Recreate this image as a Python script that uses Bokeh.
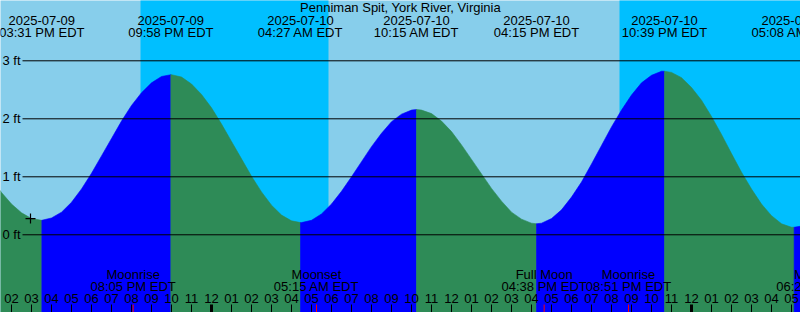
import pandas as pd
from bokeh.plotting import figure
from bokeh.models import Range1d
from bokeh.core.properties import value
from bokeh.embed import file_html
from bokeh.resources import INLINE

# ---------------- data ----------------
STATION = "Penniman Spit, York River, Virginia"
TZ = "EDT"

# tide extremes (local time, ft)
tide_times = ["2025-07-09 15:31", "2025-07-09 21:58", "2025-07-10 04:27",
              "2025-07-10 10:15", "2025-07-10 16:15", "2025-07-10 22:39",
              "2025-07-11 05:08"]
tide_levels = [0.25, 2.76, 0.21, 2.16, 0.19, 2.82, 0.13]

# tide curve read every half hour from 2025-07-09 13:00 (ft)
curve_start = "2025-07-09 13:00"
curve_levels = [
    0.97, 0.73, 0.53, 0.38, 0.28, 0.25, 0.29, 0.39, 0.56, 0.79,
    1.06, 1.36, 1.66, 1.96, 2.23, 2.45, 2.62, 2.73, 2.76, 2.72,
    2.60, 2.42, 2.19, 1.91, 1.61, 1.31, 1.01, 0.74, 0.51, 0.34,
    0.24, 0.21, 0.25, 0.36, 0.53, 0.75, 1.00, 1.26, 1.52, 1.75,
    1.95, 2.08, 2.15, 2.15, 2.09, 1.96, 1.78, 1.55, 1.30, 1.05,
    0.80, 0.58, 0.39, 0.27, 0.20, 0.20, 0.28, 0.43, 0.65, 0.91,
    1.22, 1.54, 1.86, 2.15, 2.41, 2.62, 2.75, 2.82, 2.80, 2.71,
    2.54, 2.32, 2.04, 1.73, 1.40, 1.08, 0.79, 0.53, 0.33, 0.19,
    0.13, 0.15,
]

# sun
sunset_times = ["2025-07-09 20:27", "2025-07-10 20:24"]
sunrise_times = ["2025-07-10 05:51"]

# moon events
moon_times = ["2025-07-09 20:05", "2025-07-10 05:15", "2025-07-10 16:38",
              "2025-07-10 20:51", "2025-07-11 06:22"]
moon_labels = ["Moonrise", "Moonset", "Full Moon", "Moonrise", "Moonset"]

# current-time mark
now_time = "2025-07-09 14:57"
now_level = 0.28

level_ticks = [0, 1, 2, 3]

# ---------------- layout / style ----------------
W, H = 800, 312
VIEW_START = pd.Timestamp("2025-07-09 13:27")
VIEW_END = pd.Timestamp("2025-07-11 05:27")
Y_BOTTOM, Y_TOP = -1.34, 4.04

DAY = "#87CEEB"
NIGHT = "#00BFFF"
RISING = "#0000FF"
FALLING = "#2E8B57"
FONT = value("Liberation Sans")
FS = "13px"
SHIFT = 4.5  # baseline correction (px)

EPOCH = pd.Timestamp("1970-01-01")


def ms(t):
    return (pd.Timestamp(t) - EPOCH) / pd.Timedelta(milliseconds=1)


X0, X1 = ms(VIEW_START), ms(VIEW_END)


def px_x(px):
    return X0 + (X1 - X0) * px / W


def px_y(py):
    return Y_TOP - (Y_TOP - Y_BOTTOM) * py / H


def ty(py):
    return px_y(py - SHIFT)


FT_PER_PX = (Y_TOP - Y_BOTTOM) / H

p = figure(width=W, height=H, output_backend="svg", toolbar_location=None,
           x_axis_location=None, y_axis_location=None, min_border=0,
           x_range=Range1d(X0, X1), y_range=Range1d(Y_BOTTOM, Y_TOP),
           background_fill_color=DAY, border_fill_color=DAY,
           outline_line_color=None)
p.grid.visible = False

# ---- night bands ----
rise_list = [pd.Timestamp(t) for t in sunrise_times]
for s in sunset_times:
    st = pd.Timestamp(s)
    later = [r for r in rise_list if r > st]
    en = later[0] if later else VIEW_END + pd.Timedelta(hours=1)
    p.quad(left=ms(st), right=ms(en), bottom=Y_BOTTOM - 1, top=Y_TOP + 1,
           fill_color=NIGHT, line_color=None)

# ---- water ----
curve_t = pd.date_range(curve_start, periods=len(curve_levels), freq="30min")
df = pd.concat([
    pd.DataFrame({"t": curve_t, "h": curve_levels}),
    pd.DataFrame({"t": pd.to_datetime(tide_times), "h": tide_levels}),
]).drop_duplicates("t").sort_values("t").reset_index(drop=True)
df["x"] = [ms(t) for t in df["t"]]

bounds = [df["t"].iloc[0]] + list(pd.to_datetime(tide_times)) + [df["t"].iloc[-1]]
pxs, pys, pcols = [], [], []
for a, b in zip(bounds[:-1], bounds[1:]):
    seg = df[(df["t"] >= a) & (df["t"] <= b)]
    rising = seg["h"].iloc[-1] > seg["h"].iloc[0]
    xs = list(seg["x"]) + [seg["x"].iloc[-1], seg["x"].iloc[0]]
    ys = list(seg["h"]) + [Y_BOTTOM - 1, Y_BOTTOM - 1]
    pxs.append(xs)
    pys.append(ys)
    pcols.append(RISING if rising else FALLING)
p.patches(xs=pxs, ys=pys, fill_color=pcols, line_color=pcols, line_width=0.6)

# ---- level lines and labels ----
p.segment(x0=[px_x(22)] * len(level_ticks), x1=[px_x(W + 2)] * len(level_ticks),
          y0=level_ticks, y1=level_ticks, line_color="black", line_width=1)
p.text(x=[px_x(2)] * len(level_ticks),
       y=[v - (3.8 - SHIFT) * FT_PER_PX for v in level_ticks],
       text=[f"{v} ft" for v in level_ticks], text_font=FONT,
       text_font_size=FS, text_color="black", text_align="left",
       text_baseline="alphabetic")

# ---- now marker ----
p.scatter(x=[ms(now_time)], y=[now_level], marker="cross", size=10,
          line_color="black", line_width=1.2)

# ---- title ----
p.text(x=[px_x(W / 2)], y=[ty(11.5)], text=[STATION], text_font=FONT,
       text_font_size=FS, text_color="black", text_align="center",
       text_baseline="alphabetic")

# ---- tide event labels ----
tt = pd.to_datetime(tide_times)
p.text(x=[ms(t) for t in tt], y=[ty(24)] * len(tt),
       text=[t.strftime("%Y-%m-%d") for t in tt], text_font=FONT,
       text_font_size=FS, text_color="black", text_align="center",
       text_baseline="alphabetic")
p.text(x=[ms(t) for t in tt], y=[ty(36)] * len(tt),
       text=[t.strftime("%I:%M %p ") + TZ for t in tt], text_font=FONT,
       text_font_size=FS, text_color="black", text_align="center",
       text_baseline="alphabetic")

# ---- hour ticks ----
hours = pd.date_range("2025-07-09 13:00", "2025-07-11 06:00", freq="h")
hx = [ms(h) for h in hours]
hw = [3 if h.hour == 0 else 1 for h in hours]
p.segment(x0=hx, x1=hx, y0=[px_y(304)] * len(hx), y1=[px_y(H + 2)] * len(hx),
          line_color="black", line_width=hw)
p.text(x=hx, y=[ty(302.5)] * len(hx), text=[h.strftime("%I") for h in hours],
       text_font=FONT, text_font_size=FS, text_color="black",
       text_align="center", text_baseline="alphabetic")

# ---- moon events ----
mt = pd.to_datetime(moon_times)
mx = [ms(t) for t in mt]
p.segment(x0=mx, x1=mx, y0=[px_y(304)] * len(mx), y1=[px_y(H + 2)] * len(mx),
          line_color="red", line_width=1)
p.text(x=mx, y=[ty(278)] * len(mx), text=moon_labels, text_font=FONT,
       text_font_size=FS, text_color="black", text_align="center",
       text_baseline="alphabetic")
p.text(x=mx, y=[ty(290.5)] * len(mx),
       text=[t.strftime("%I:%M %p ") + TZ for t in mt], text_font=FONT,
       text_font_size=FS, text_color="black", text_align="center",
       text_baseline="alphabetic")

open("out.html", "w").write(file_html(p, INLINE))
